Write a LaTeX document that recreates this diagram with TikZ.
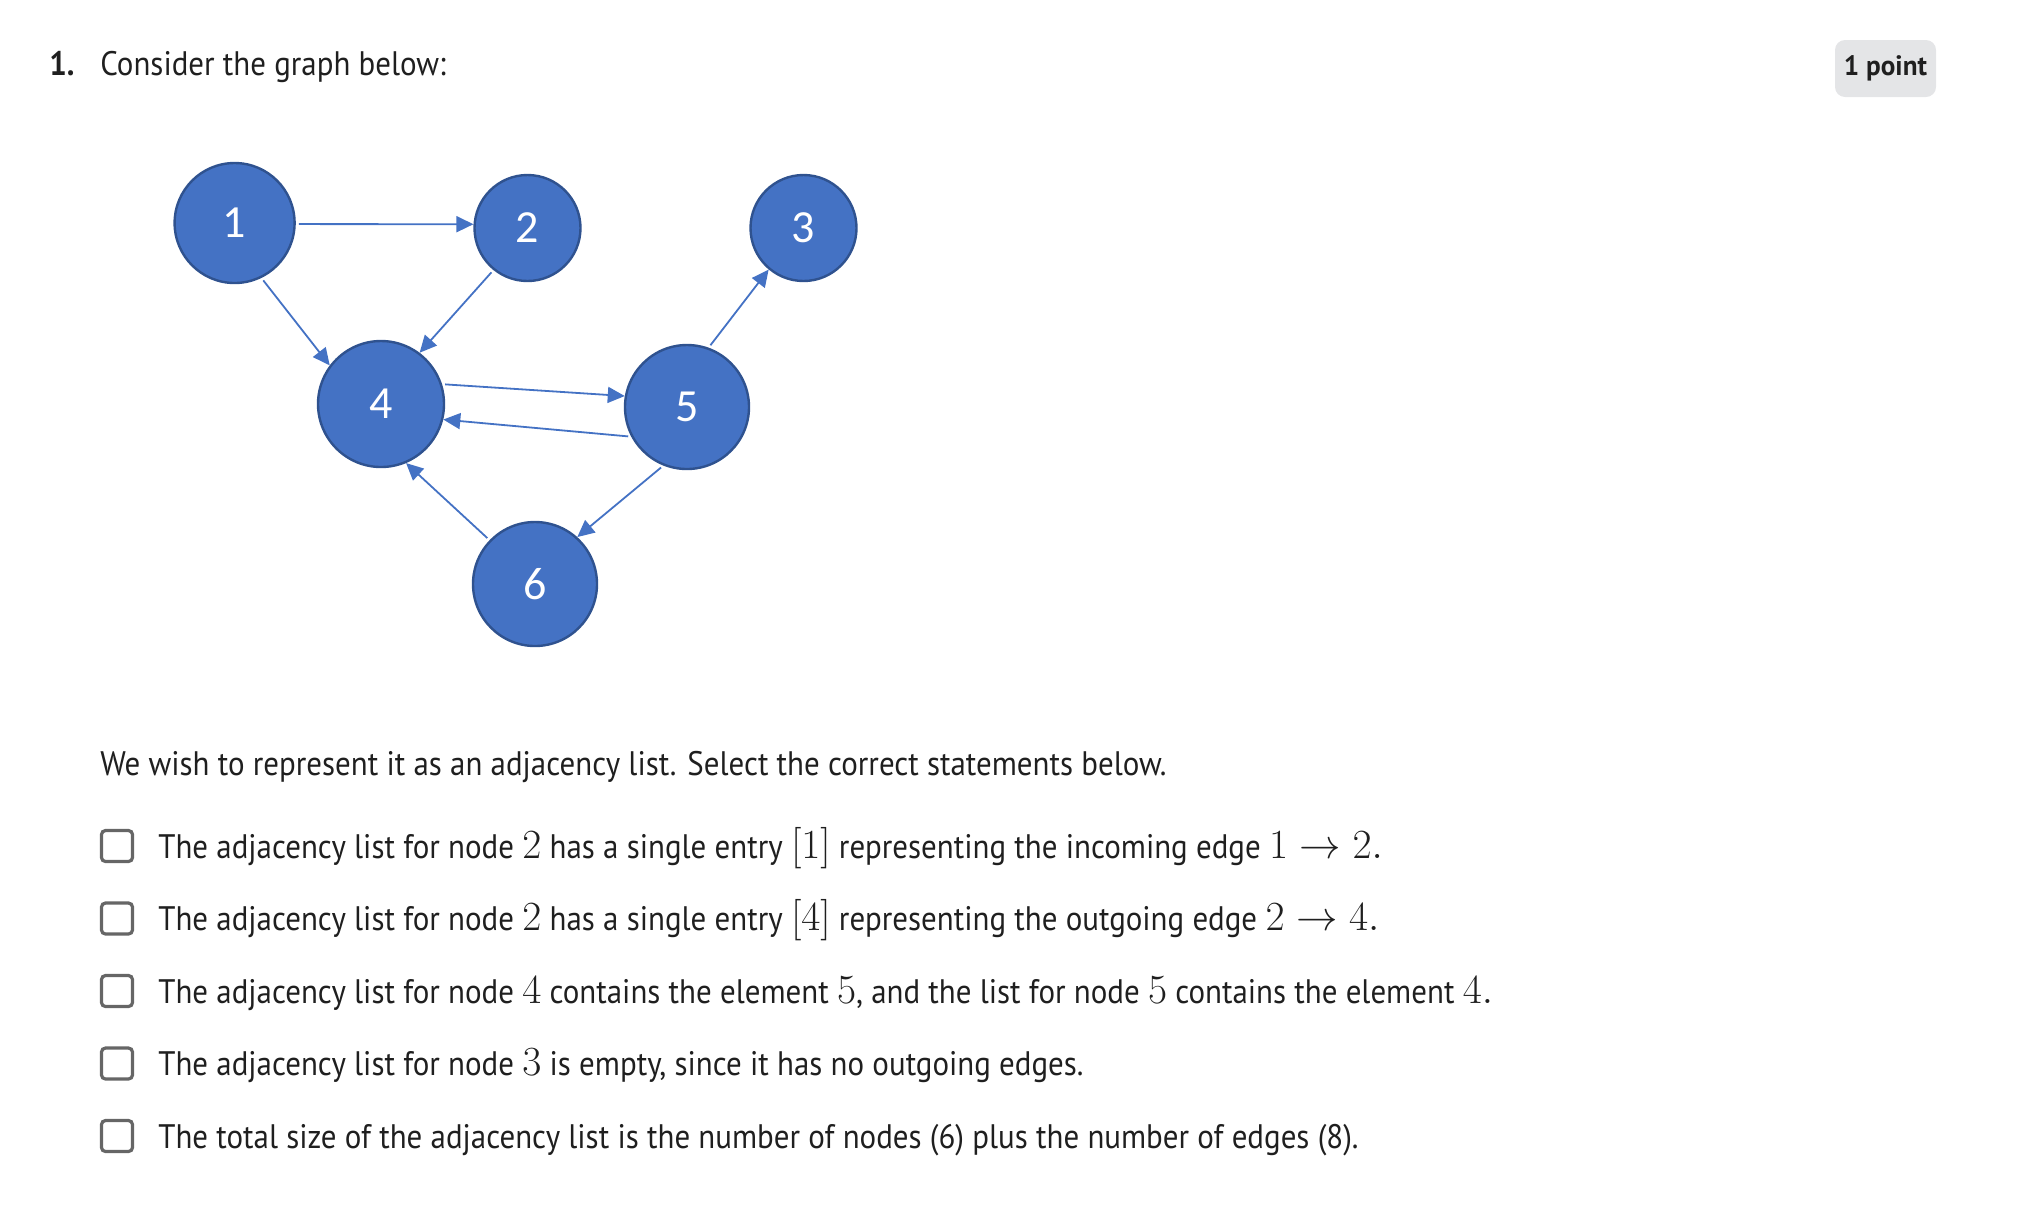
\documentclass[tikz,border=0pt]{standalone}
\usepackage{fontspec}
\setmainfont{PT Sans}[FakeStretch=0.91]
\newfontfamily\vtxfont{Carlito}
\newfontfamily\badgefont{PT Sans}[FakeStretch=0.97]
\usetikzlibrary{arrows.meta}

\definecolor{vtxblue}{HTML}{4472C4}
\definecolor{vtxrim}{HTML}{2F528F}
\definecolor{txtdark}{HTML}{1F1F1F}
\definecolor{boxrim}{HTML}{666666}
\definecolor{badgefill}{HTML}{E4E5E7}

\newcommand\mth[1]{{\fontsize{20}{24}\selectfont$#1$}}

\begin{document}
\begin{tikzpicture}[x=0.5pt,y=-0.5pt,line cap=butt,line join=miter,
    vtx/.style={circle,fill=vtxblue,draw=vtxrim,line width=1.2pt,minimum size=#1pt,
                inner sep=0pt,text=white,font=\vtxfont\fontsize{23}{27}\selectfont},
    arc/.style={draw=vtxblue,line width=0.9pt,shorten <=1.5pt,
                -{Triangle[length=8.5pt,width=8pt]}},
    ckbox/.style={draw=boxrim,line width=1.6pt,rounded corners=2pt,minimum size=15.5pt,inner sep=0pt},
    txt/.style={anchor=base west,inner sep=0pt,text=txtdark,font=\fontsize{17}{20}\selectfont}]
  \path[use as bounding box] (0,0) rectangle (2032,1228);   % canvas = source 2032x1228 px
  % ---- heading ----
  \node[txt,font=\bfseries\fontsize{17}{20}\selectfont] (qnum) at (49,75) {1.};
  \node[txt] (qhead) at (100,75) {Consider the graph below:};
  \node[fill=badgefill,rounded corners=5pt,minimum width=50.5pt,minimum height=28.5pt,inner sep=0pt,
        text=txtdark,font=\badgefont\bfseries\fontsize{14}{16}\selectfont] (badge) at (1885.5,68.5) {1 point};
  % ---- vertices (centres in source px) ----
  \node[vtx=60] (n1) at (234.6,223) {\raisebox{-2pt}{1}};
  \node[vtx=53] (n2) at (527.5,228) {\raisebox{-3pt}{2}};
  \node[vtx=53] (n3) at (803.5,228) {\raisebox{-3pt}{3}};
  \node[vtx=63] (n4) at (381,404)   {4};
  \node[vtx=62] (n5) at (687,407)   {\raisebox{-3pt}{5}};
  \node[vtx=62] (n6) at (535,584)   {\raisebox{-2pt}{6}};
  % ---- edges ----
  \draw[arc] (n1.-1)  -- (n2.176);
  \draw[arc] (n1.-64) -- (n4.143);
  \draw[arc] (n2.231) -- (n4.53);
  \draw[arc] (n4.18)  -- (n5.170);
  \draw[arc] (n5.208) -- (n4.346);
  \draw[arc] (n5.70)  -- (n3.230);
  \draw[arc] (n5.248) -- (n6.48);
  \draw[arc] (n6.136) -- (n4.293);
  % ---- question text ----
  \node[txt] (intro) at (100,775) {We wish to represent it as an adjacency list. Select the correct statements below.};
  \node[ckbox] (c1) at (117,846)  {};
  \node[ckbox] (c2) at (117,918.5) {};
  \node[ckbox] (c3) at (117,991)  {};
  \node[ckbox] (c4) at (117,1063.5) {};
  \node[ckbox] (c5) at (117,1136) {};
  \node[txt] (s1) at (158,858)  {The adjacency list for node \mth{2} has a single entry \mth{[1]} representing the incoming edge \mth{1\to 2.}};
  \node[txt] (s2) at (158,930.5) {The adjacency list for node \mth{2} has a single entry \mth{[4]} representing the outgoing edge \mth{2\to 4.}};
  \node[txt] (s3) at (158,1003) {The adjacency list for node \mth{4} contains the element \mth{5}, and the list for node \mth{5} contains the element \mth{4.}};
  \node[txt] (s4) at (158,1075.5) {The adjacency list for node \mth{3} is empty, since it has no outgoing edges.};
  \node[txt] (s5) at (158,1148) {The total size of the adjacency list is the number of nodes (6) plus the number of edges (8).};
\end{tikzpicture}
\end{document}
